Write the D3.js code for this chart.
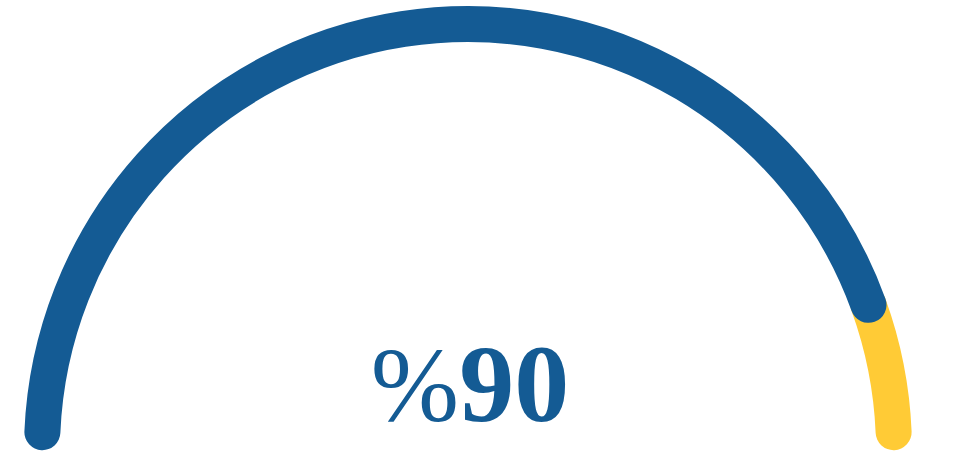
<!DOCTYPE html>
<html>
<head>
<meta charset="utf-8">
<script src="https://cdn.jsdelivr.net/npm/d3@7"></script>
<style>
  html, body { margin: 0; padding: 0; background: #ffffff; }
  svg { display: block; }
</style>
</head>
<body>
<svg id="chart" width="953" height="457"></svg>
<script>
// Data
const gaugeValue = [90];
const gaugeRange = [0, 100];
const segmentColors = ["#145b94", "#ffcb36"];
const labelParts = ["%", "90"];

const svg = d3.select("#chart");
const W = 953, H = 457;
const cx = 468, cy = 450, r = 426, strokeW = 36;
const halfSpan = 87.6 * Math.PI / 180;

// value -> angle (radians, measured clockwise from vertical up)
const angle = d3.scaleLinear().domain(gaugeRange).range([-halfSpan, halfSpan]);

function arcPath(v0, v1) {
  const p = d3.path();
  const a0 = angle(v0) - Math.PI / 2;
  const a1 = angle(v1) - Math.PI / 2;
  p.moveTo(cx + r * Math.cos(a0), cy + r * Math.sin(a0));
  p.arc(cx, cy, r, a0, a1, false);
  return p.toString();
}

const g = svg.append("g");
// remaining segment (yellow)
g.append("path")
  .attr("d", arcPath(gaugeValue[0], gaugeRange[1]))
  .attr("fill", "none")
  .attr("stroke", segmentColors[1])
  .attr("stroke-width", strokeW)
  .attr("stroke-linecap", "round");
// value segment (blue)
g.append("path")
  .attr("d", arcPath(gaugeRange[0], gaugeValue[0]))
  .attr("fill", "none")
  .attr("stroke", segmentColors[0])
  .attr("stroke-width", strokeW)
  .attr("stroke-linecap", "round");

const t = svg.append("text")
  .attr("x", 470)
  .attr("y", 421)
  .attr("text-anchor", "middle")
  .attr("fill", segmentColors[0])
  .attr("font-family", "'Liberation Serif', 'Times New Roman', serif");
t.append("tspan")
  .attr("font-size", 106)
  .attr("font-weight", "normal")
  .text(labelParts[0]);
t.append("tspan")
  .attr("font-size", 110)
  .attr("font-weight", "bold")
  .text(labelParts[1]);
</script>
</body>
</html>
